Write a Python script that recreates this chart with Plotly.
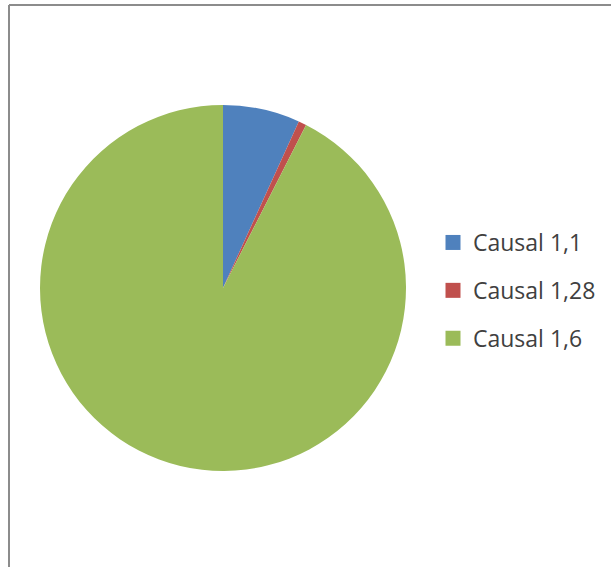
import plotly.graph_objects as go

labels = ["Causal 1,1", "Causal 1,28", "Causal 1,6"]
values = [6.8, 0.7, 92.5]
colors = ["#4F81BD", "#C0504D", "#9BBB59"]

W, H = 611, 567
cx, cy, r = 223, 288, 183

fig = go.Figure()
fig.add_trace(go.Pie(
    labels=labels, values=values, sort=False, direction="clockwise",
    marker=dict(colors=colors, line=dict(width=0)),
    textinfo="none", showlegend=False, hoverinfo="label+percent",
    domain=dict(x=[(cx - r) / W, (cx + r) / W], y=[1 - (cy + r) / H, 1 - (cy - r) / H]),
))
for lab, col in zip(labels, colors):
    fig.add_trace(go.Scatter(
        x=[None], y=[None], mode="markers", name=lab, legendgroup=lab,
        marker=dict(symbol="square", size=15, color=col), showlegend=True,
    ))

fig.update_layout(
    width=W, height=H, margin=dict(l=0, r=0, t=0, b=0),
    paper_bgcolor="white", plot_bgcolor="white",
    xaxis=dict(visible=False), yaxis=dict(visible=False),
    legend=dict(x=433 / W, y=1 - 221 / H, xanchor="left", yanchor="top",
                font=dict(family="Open Sans", size=23, color="#404040"),
                tracegroupgap=15, itemsizing="trace", bgcolor="rgba(0,0,0,0)"),
    shapes=[
        dict(type="line", xref="paper", yref="paper", x0=9 / W, x1=1, y0=1 - 5 / H, y1=1 - 5 / H,
             line=dict(color="#8c8c8c", width=2)),
        dict(type="line", xref="paper", yref="paper", x0=9 / W, x1=9 / W, y0=1 - 5 / H, y1=0,
             line=dict(color="#8c8c8c", width=2)),
    ],
)
fig.write_html("out.html", config={"displayModeBar": False},
               post_script="document.body.style.margin='0px';document.body.style.overflow='hidden';")
